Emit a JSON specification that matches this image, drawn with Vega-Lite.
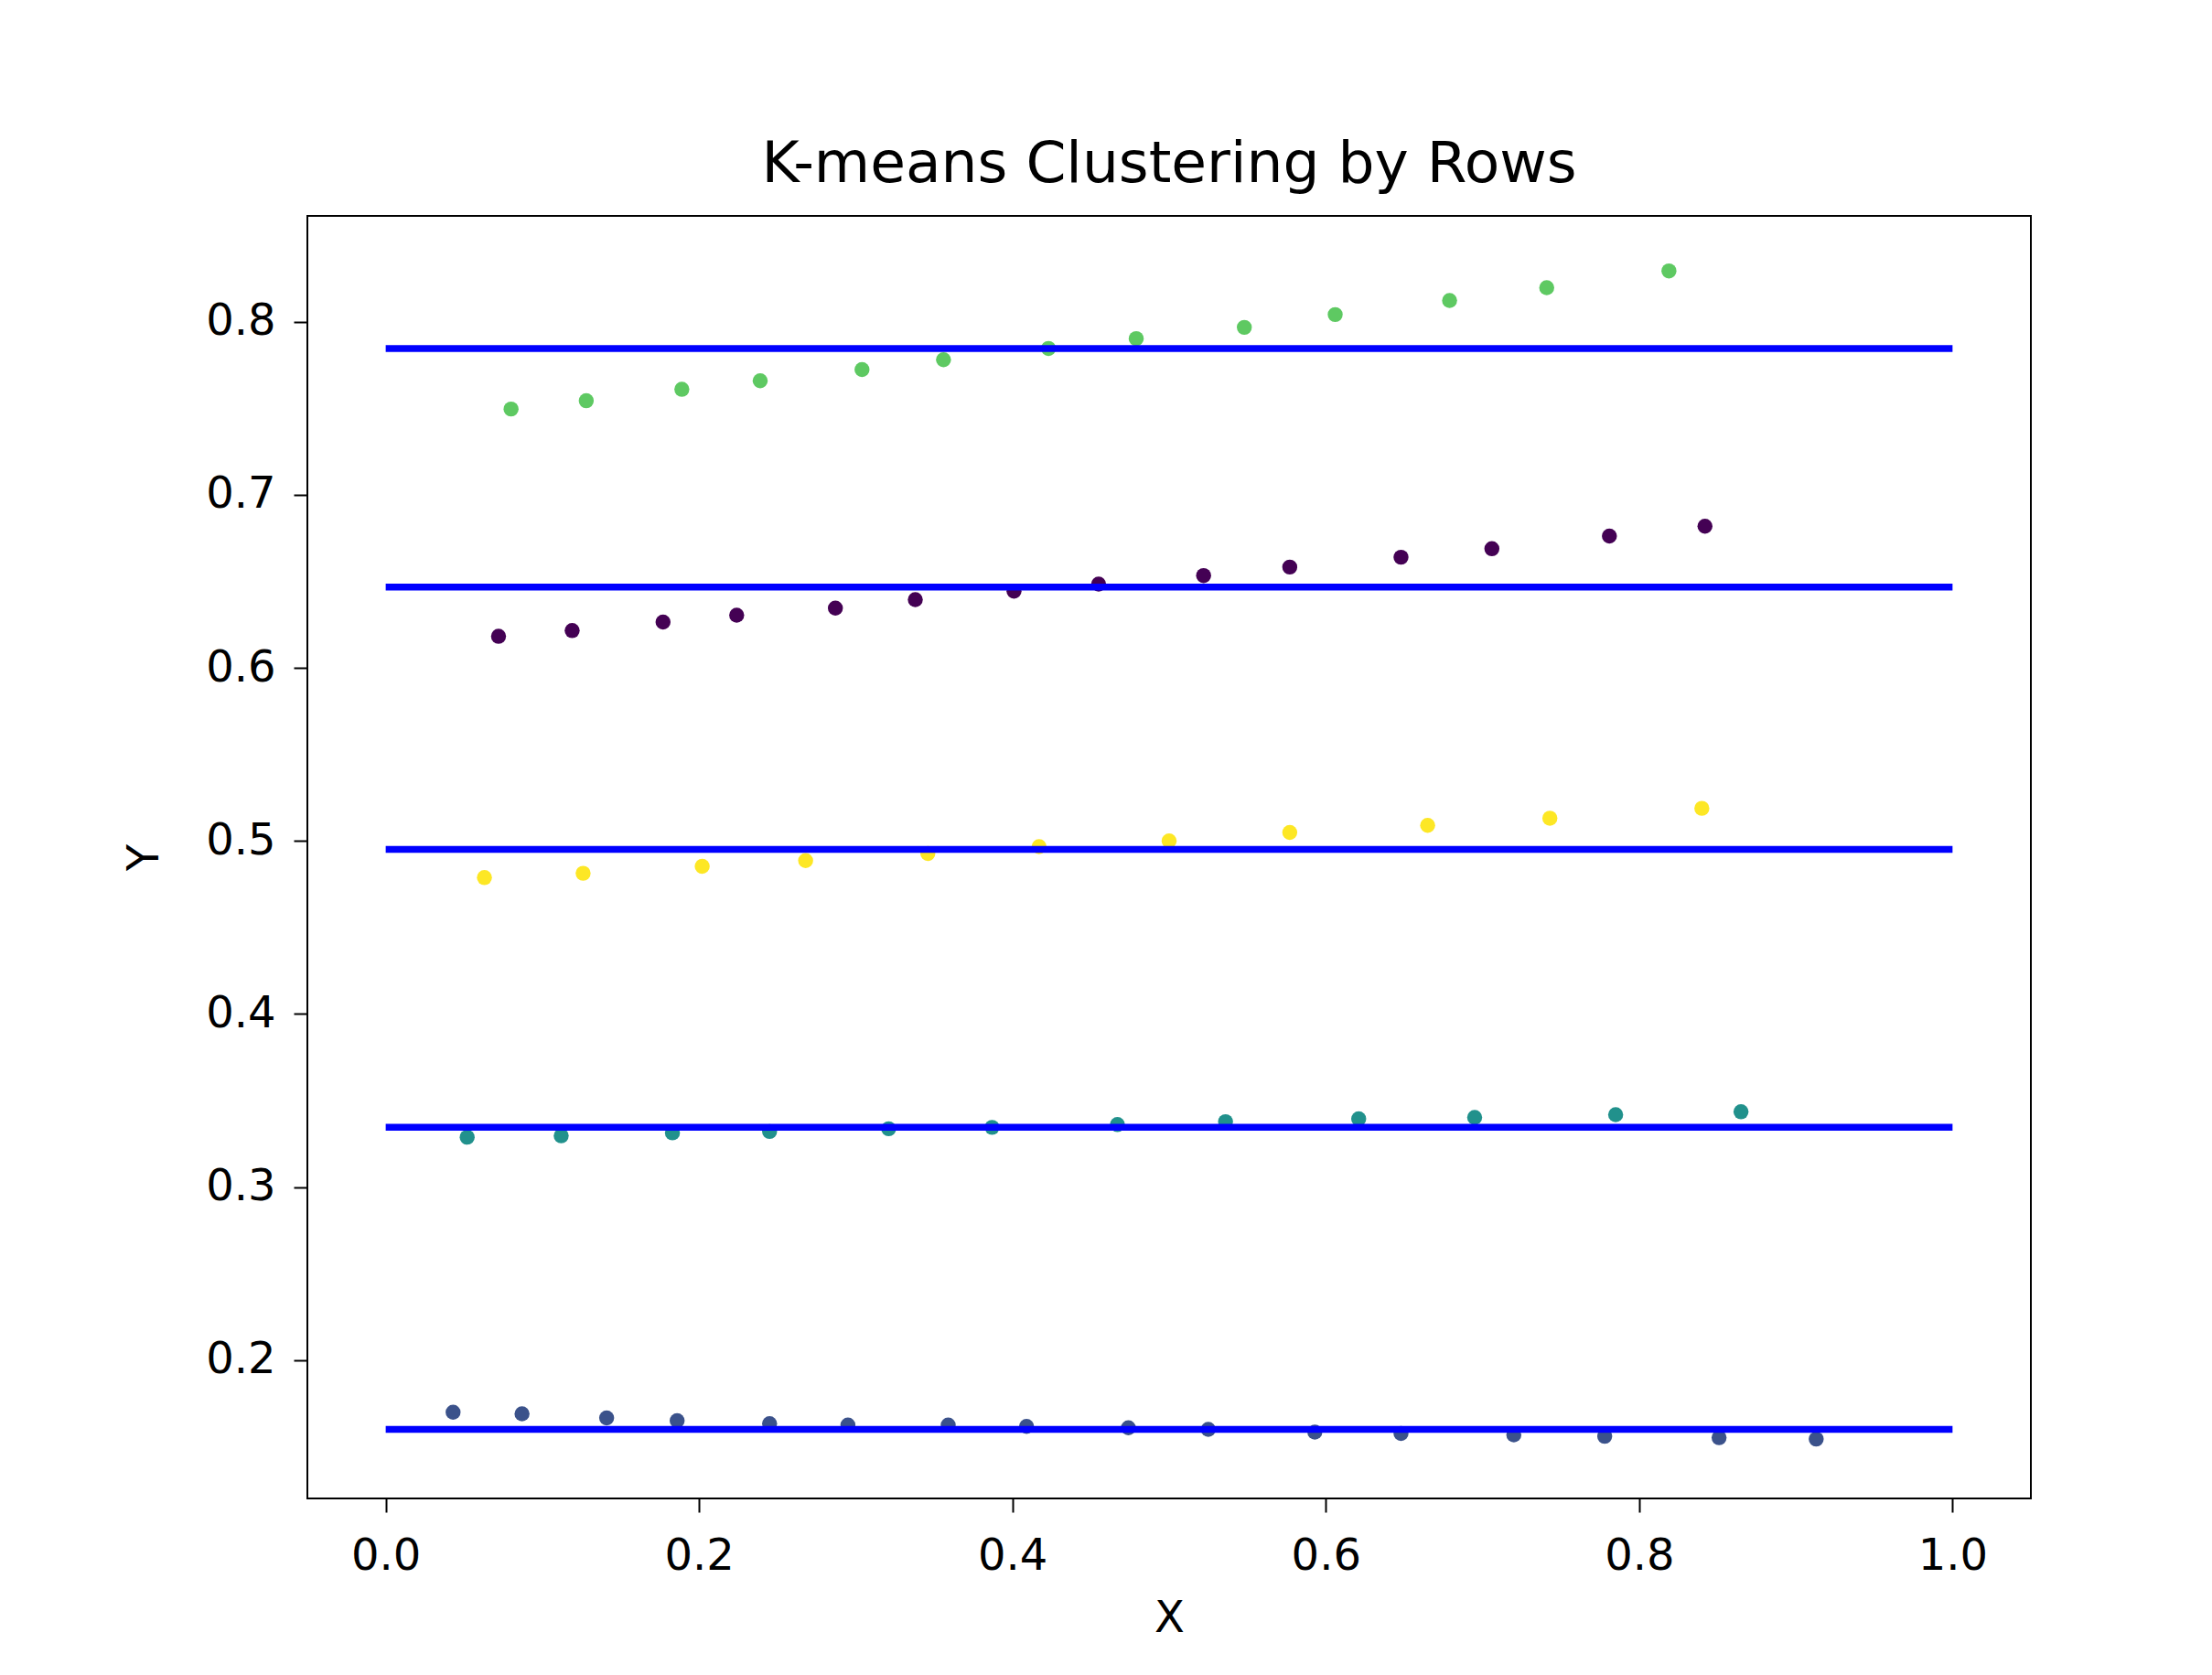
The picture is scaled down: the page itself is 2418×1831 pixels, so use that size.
{
  "$schema": "https://vega.github.io/schema/vega-lite/v6.json",
  "autosize": {"type": "none"},
  "width": 1884,
  "height": 1402,
  "padding": {"left": 336, "top": 236, "right": 198, "bottom": 193},
  "background": "white",
  "title": {"text": "K-means Clustering by Rows", "font": "DejaVu Sans", "fontSize": 63, "fontWeight": "normal", "color": "black", "offset": 24, "anchor": "middle"},
  "config": {
    "view": {"stroke": "black", "strokeWidth": 2},
    "axis": {"labelFont": "DejaVu Sans", "titleFont": "DejaVu Sans", "labelFontSize": 48, "titleFontSize": 48, "titleFontWeight": "normal", "labelColor": "black", "titleColor": "black", "tickColor": "black", "tickSize": 15, "tickWidth": 2, "domain": false, "grid": false}
  },
  "datasets": {
    "points": [
      {"x": 0.080, "y": 0.7495, "cluster": 3}, {"x": 0.128, "y": 0.7543, "cluster": 3}, {"x": 0.189, "y": 0.7609, "cluster": 3}, {"x": 0.239, "y": 0.7658, "cluster": 3}, {"x": 0.304, "y": 0.7723, "cluster": 3}, {"x": 0.356, "y": 0.7780, "cluster": 3}, {"x": 0.423, "y": 0.7845, "cluster": 3}, {"x": 0.479, "y": 0.7902, "cluster": 3}, {"x": 0.548, "y": 0.7967, "cluster": 3}, {"x": 0.606, "y": 0.8041, "cluster": 3}, {"x": 0.679, "y": 0.8122, "cluster": 3}, {"x": 0.741, "y": 0.8196, "cluster": 3}, {"x": 0.819, "y": 0.8293, "cluster": 3},
      {"x": 0.072, "y": 0.6182, "cluster": 0}, {"x": 0.119, "y": 0.6215, "cluster": 0}, {"x": 0.177, "y": 0.6264, "cluster": 0}, {"x": 0.224, "y": 0.6304, "cluster": 0}, {"x": 0.287, "y": 0.6345, "cluster": 0}, {"x": 0.338, "y": 0.6394, "cluster": 0}, {"x": 0.401, "y": 0.6443, "cluster": 0}, {"x": 0.455, "y": 0.6484, "cluster": 0}, {"x": 0.522, "y": 0.6533, "cluster": 0}, {"x": 0.577, "y": 0.6582, "cluster": 0}, {"x": 0.648, "y": 0.6639, "cluster": 0}, {"x": 0.706, "y": 0.6688, "cluster": 0}, {"x": 0.781, "y": 0.6761, "cluster": 0}, {"x": 0.842, "y": 0.6818, "cluster": 0},
      {"x": 0.063, "y": 0.4788, "cluster": 4}, {"x": 0.126, "y": 0.4813, "cluster": 4}, {"x": 0.202, "y": 0.4853, "cluster": 4}, {"x": 0.268, "y": 0.4886, "cluster": 4}, {"x": 0.346, "y": 0.4927, "cluster": 4}, {"x": 0.417, "y": 0.4967, "cluster": 4}, {"x": 0.500, "y": 0.5000, "cluster": 4}, {"x": 0.577, "y": 0.5049, "cluster": 4}, {"x": 0.665, "y": 0.5090, "cluster": 4}, {"x": 0.743, "y": 0.5131, "cluster": 4}, {"x": 0.840, "y": 0.5188, "cluster": 4},
      {"x": 0.052, "y": 0.3288, "cluster": 2}, {"x": 0.112, "y": 0.3296, "cluster": 2}, {"x": 0.183, "y": 0.3313, "cluster": 2}, {"x": 0.245, "y": 0.3321, "cluster": 2}, {"x": 0.321, "y": 0.3337, "cluster": 2}, {"x": 0.387, "y": 0.3345, "cluster": 2}, {"x": 0.467, "y": 0.3361, "cluster": 2}, {"x": 0.536, "y": 0.3378, "cluster": 2}, {"x": 0.621, "y": 0.3394, "cluster": 2}, {"x": 0.695, "y": 0.3402, "cluster": 2}, {"x": 0.785, "y": 0.3418, "cluster": 2}, {"x": 0.865, "y": 0.3435, "cluster": 2},
      {"x": 0.043, "y": 0.1699, "cluster": 1}, {"x": 0.087, "y": 0.1690, "cluster": 1}, {"x": 0.141, "y": 0.1666, "cluster": 1}, {"x": 0.186, "y": 0.1650, "cluster": 1}, {"x": 0.245, "y": 0.1633, "cluster": 1}, {"x": 0.295, "y": 0.1625, "cluster": 1}, {"x": 0.359, "y": 0.1625, "cluster": 1}, {"x": 0.409, "y": 0.1617, "cluster": 1}, {"x": 0.474, "y": 0.1609, "cluster": 1}, {"x": 0.525, "y": 0.1600, "cluster": 1}, {"x": 0.593, "y": 0.1584, "cluster": 1}, {"x": 0.648, "y": 0.1576, "cluster": 1}, {"x": 0.720, "y": 0.1568, "cluster": 1}, {"x": 0.778, "y": 0.1560, "cluster": 1}, {"x": 0.851, "y": 0.1552, "cluster": 1}, {"x": 0.913, "y": 0.1544, "cluster": 1}
    ],
    "lines": [
      {"x0": 0, "x1": 1, "y": 0.7845},
      {"x0": 0, "x1": 1, "y": 0.6467},
      {"x0": 0, "x1": 1, "y": 0.4951},
      {"x0": 0, "x1": 1, "y": 0.3345},
      {"x0": 0, "x1": 1, "y": 0.1600}
    ]
  },
  "layer": [
    {
      "data": {"name": "points"},
      "mark": {"type": "circle", "size": 270, "opacity": 1},
      "encoding": {
        "x": {"field": "x", "type": "quantitative", "scale": {"domain": [-0.05, 1.05], "nice": false, "zero": false}, "axis": {"title": "X", "values": [0, 0.2, 0.4, 0.6, 0.8, 1.0], "format": ".1f", "labelPadding": 24, "titlePadding": 20}},
        "y": {"field": "y", "type": "quantitative", "scale": {"domain": [0.1201, 0.8611], "nice": false, "zero": false}, "axis": {"title": "Y", "values": [0.2, 0.3, 0.4, 0.5, 0.6, 0.7, 0.8], "format": ".1f", "labelPadding": 20, "titlePadding": 42}},
        "color": {"field": "cluster", "type": "nominal", "scale": {"domain": [0, 1, 2, 3, 4], "range": ["#440154", "#3b528b", "#21918c", "#5ec962", "#fde725"]}, "legend": null}
      }
    },
    {
      "data": {"name": "lines"},
      "mark": {"type": "rule", "color": "#0000ff", "strokeWidth": 7.5},
      "encoding": {
        "x": {"field": "x0", "type": "quantitative"},
        "x2": {"field": "x1"},
        "y": {"field": "y", "type": "quantitative"}
      }
    }
  ]
}
